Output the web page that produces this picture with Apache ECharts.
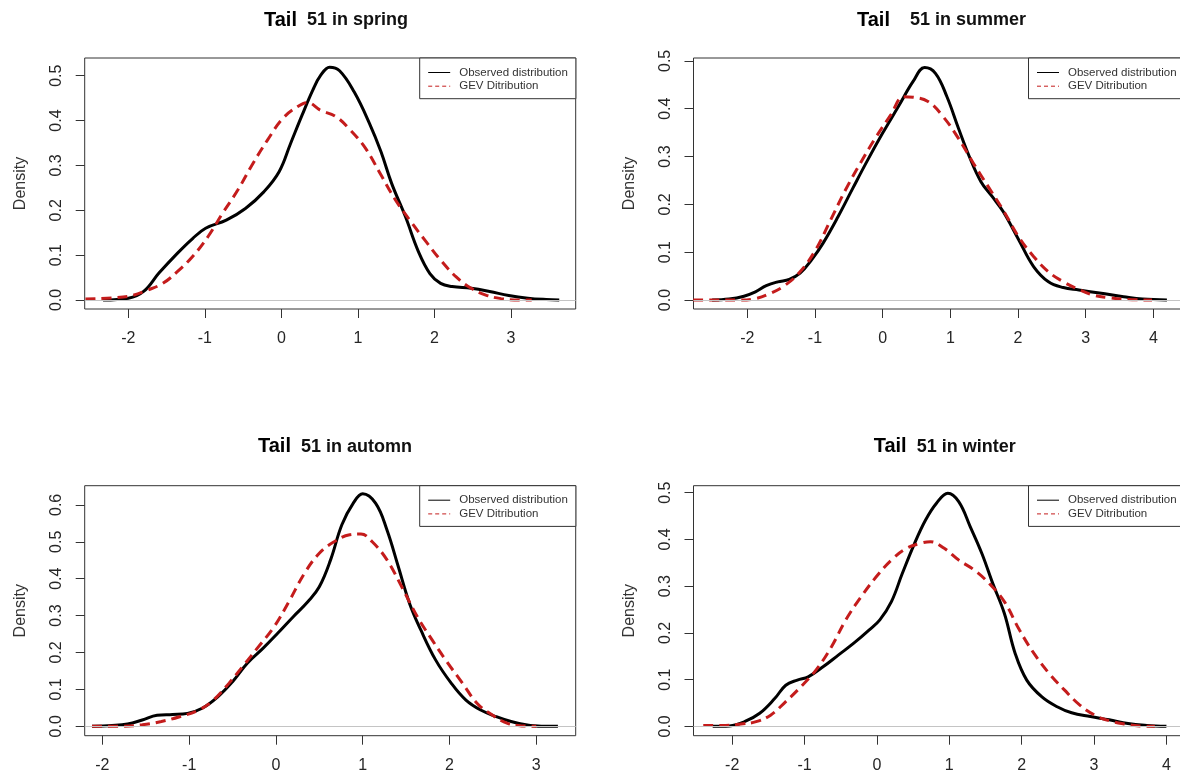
<!DOCTYPE html>
<html>
<head>
<meta charset="utf-8">
<script src="https://cdn.jsdelivr.net/npm/echarts@6/dist/echarts.min.js"></script>
<style>
html,body{margin:0;padding:0;background:#fff;}
#chart{width:1180px;height:777px;}
</style>
</head>
<body>
<div id="chart"></div>
<script>
// ---------- data ----------
const panelTitles = ['51 in spring', '51 in summer', '51 in automn', '51 in winter'];
const titleGaps = ['  ', '    ', '  ', '  '];
const seriesNames = ['Observed distribution', 'GEV Ditribution'];
const yAxisName = 'Density';

const xTicksSpring = [-2, -1, 0, 1, 2, 3];
const xTicksSummer = [-2, -1, 0, 1, 2, 3, 4];
const xTicksAutumn = [-2, -1, 0, 1, 2, 3];
const xTicksWinter = [-2, -1, 0, 1, 2, 3, 4];
const yTicksSpring = [0, 0.1, 0.2, 0.3, 0.4, 0.5];
const yTicksSummer = [0, 0.1, 0.2, 0.3, 0.4, 0.5];
const yTicksAutumn = [0, 0.1, 0.2, 0.3, 0.4, 0.5, 0.6];
const yTicksWinter = [0, 0.1, 0.2, 0.3, 0.4, 0.5];

const xRangeSpring = [-2.57, 3.845];
const xRangeSummer = [-2.795, 4.46];
const xRangeAutumn = [-2.204, 3.455];
const xRangeWinter = [-2.535, 4.25];
const yRangeSpring = [-0.0201, 0.5395];
const yRangeSummer = [-0.0188, 0.506];
const yRangeAutumn = [-0.0255, 0.652];
const yRangeWinter = [-0.020, 0.515];

// spring
const springObsX = [-2.33, -2.0, -1.8, -1.6, -1.36, -1.16, -0.99, -0.72, -0.47, -0.23, -0.03, 0.12, 0.27, 0.41, 0.51, 0.63, 0.76, 0.95, 1.15, 1.30, 1.44, 1.62, 1.79, 1.94, 2.08, 2.23, 2.48, 2.72, 2.97, 3.22, 3.46, 3.63];
const springObsY = [0.0, 0.004, 0.019, 0.06, 0.104, 0.137, 0.16, 0.178, 0.204, 0.241, 0.286, 0.349, 0.412, 0.468, 0.50, 0.519, 0.511, 0.464, 0.394, 0.331, 0.26, 0.186, 0.108, 0.059, 0.037, 0.030, 0.026, 0.019, 0.010, 0.004, 0.001, 0.0];
const springGevX = [-2.56, -2.19, -1.95, -1.75, -1.55, -1.36, -1.16, -0.96, -0.77, -0.57, -0.37, -0.18, 0.02, 0.22, 0.34, 0.51, 0.71, 0.90, 1.10, 1.30, 1.49, 1.69, 1.89, 2.08, 2.28, 2.48, 2.67, 2.87, 3.12, 3.27];
const springGevY = [0.002, 0.005, 0.01, 0.022, 0.037, 0.063, 0.097, 0.141, 0.193, 0.245, 0.305, 0.357, 0.405, 0.432, 0.44, 0.423, 0.409, 0.379, 0.338, 0.279, 0.223, 0.175, 0.13, 0.089, 0.052, 0.026, 0.011, 0.003, 0.0, 0.0];

// summer
const summerObsX = [-2.52, -2.27, -2.05, -1.88, -1.72, -1.55, -1.38, -1.22, -1.05, -0.88, -0.66, -0.44, -0.22, 0.0, 0.23, 0.45, 0.62, 0.78, 0.95, 1.12, 1.28, 1.45, 1.62, 1.78, 2.01, 2.23, 2.45, 2.67, 2.9, 3.23, 3.56, 3.84, 4.2];
const summerObsY = [0.0, 0.002, 0.008, 0.017, 0.03, 0.038, 0.043, 0.056, 0.084, 0.119, 0.174, 0.234, 0.293, 0.349, 0.404, 0.457, 0.486, 0.474, 0.425, 0.359, 0.30, 0.248, 0.216, 0.185, 0.126, 0.07, 0.038, 0.026, 0.021, 0.014, 0.007, 0.002, 0.0];
const summerGevX = [-2.8, -2.5, -2.1, -1.88, -1.66, -1.44, -1.22, -0.99, -0.77, -0.55, -0.33, -0.11, 0.12, 0.31, 0.45, 0.67, 0.89, 1.12, 1.34, 1.56, 1.78, 2.01, 2.23, 2.45, 2.67, 2.9, 3.12, 3.34, 3.62, 3.98];
const summerGevY = [0.0, 0.0, 0.0, 0.003, 0.014, 0.031, 0.059, 0.105, 0.167, 0.23, 0.286, 0.338, 0.387, 0.425, 0.424, 0.415, 0.384, 0.338, 0.286, 0.237, 0.188, 0.132, 0.091, 0.059, 0.038, 0.022, 0.01, 0.005, 0.001, 0.0];

// autumn
const autumnObsX = [-2.12, -1.89, -1.71, -1.54, -1.37, -1.19, -1.02, -0.85, -0.67, -0.5, -0.33, -0.15, 0.02, 0.2, 0.37, 0.5, 0.63, 0.76, 0.89, 1.0, 1.15, 1.28, 1.41, 1.54, 1.67, 1.84, 2.02, 2.19, 2.36, 2.54, 2.71, 2.88, 3.06, 3.25];
const autumnObsY = [0.0, 0.002, 0.006, 0.017, 0.03, 0.032, 0.035, 0.049, 0.08, 0.121, 0.171, 0.211, 0.252, 0.297, 0.338, 0.378, 0.451, 0.546, 0.604, 0.63, 0.604, 0.532, 0.433, 0.333, 0.261, 0.18, 0.117, 0.071, 0.044, 0.026, 0.013, 0.004, 0.0, 0.0];
const autumnGevX = [-2.12, -1.8, -1.54, -1.32, -1.11, -0.89, -0.72, -0.54, -0.37, -0.2, -0.02, 0.15, 0.33, 0.5, 0.67, 0.85, 0.98, 1.11, 1.28, 1.45, 1.63, 1.8, 1.97, 2.15, 2.32, 2.49, 2.67, 2.84, 3.0];
const autumnGevY = [0.0, 0.0, 0.004, 0.013, 0.026, 0.044, 0.071, 0.117, 0.166, 0.216, 0.27, 0.338, 0.415, 0.469, 0.50, 0.519, 0.521, 0.50, 0.451, 0.378, 0.297, 0.234, 0.175, 0.117, 0.062, 0.031, 0.008, 0.001, 0.0];

// winter
const winterObsX = [-2.27, -2.04, -1.83, -1.62, -1.41, -1.26, -1.1, -0.95, -0.74, -0.53, -0.32, -0.11, 0.04, 0.2, 0.35, 0.51, 0.67, 0.82, 0.98, 1.13, 1.29, 1.45, 1.6, 1.76, 1.91, 2.07, 2.28, 2.49, 2.69, 2.95, 3.21, 3.47, 3.73, 4.0];
const winterObsY = [0.0, 0.001, 0.01, 0.028, 0.06, 0.088, 0.099, 0.106, 0.128, 0.153, 0.178, 0.206, 0.228, 0.267, 0.327, 0.388, 0.441, 0.477, 0.499, 0.481, 0.427, 0.37, 0.306, 0.242, 0.156, 0.099, 0.063, 0.042, 0.029, 0.021, 0.014, 0.006, 0.002, 0.0];
const winterGevX = [-2.4, -2.09, -1.88, -1.67, -1.47, -1.26, -1.05, -0.84, -0.63, -0.43, -0.22, -0.01, 0.2, 0.41, 0.61, 0.74, 0.93, 1.13, 1.34, 1.55, 1.76, 1.97, 2.17, 2.38, 2.59, 2.8, 3.01, 3.21, 3.42, 3.63, 3.84];
const winterGevY = [0.002, 0.002, 0.005, 0.01, 0.024, 0.053, 0.085, 0.121, 0.17, 0.228, 0.277, 0.32, 0.356, 0.381, 0.392, 0.395, 0.381, 0.356, 0.335, 0.306, 0.267, 0.206, 0.156, 0.113, 0.078, 0.046, 0.024, 0.012, 0.005, 0.001, 0.0];

// ---------- layout ----------
const zip = (xs, ys) => xs.map((x, i) => [x, ys[i]]);
const panels = [
  {title: panelTitles[0], gap: titleGaps[0], obs: zip(springObsX, springObsY), gev: zip(springGevX, springGevY), xr: xRangeSpring, yr: yRangeSpring, xt: xTicksSpring, yt: yTicksSpring},
  {title: panelTitles[1], gap: titleGaps[1], obs: zip(summerObsX, summerObsY), gev: zip(summerGevX, summerGevY), xr: xRangeSummer, yr: yRangeSummer, xt: xTicksSummer, yt: yTicksSummer},
  {title: panelTitles[2], gap: titleGaps[2], obs: zip(autumnObsX, autumnObsY), gev: zip(autumnGevX, autumnGevY), xr: xRangeAutumn, yr: yRangeAutumn, xt: xTicksAutumn, yt: yTicksAutumn},
  {title: panelTitles[3], gap: titleGaps[3], obs: zip(winterObsX, winterObsY), gev: zip(winterGevX, winterGevY), xr: xRangeWinter, yr: yRangeWinter, xt: xTicksWinter, yt: yTicksWinter}
];
const boxes = [
  {left: 84.7, top: 58, width: 491, height: 251, tx: 336, ty: 20},
  {left: 693.5, top: 58, width: 491, height: 251, tx: 941.5, ty: 20},
  {left: 84.7, top: 485.7, width: 491, height: 250, tx: 335, ty: 446.7},
  {left: 693.5, top: 485.7, width: 491, height: 250, tx: 944.7, ty: 446.7}
];

const FONT = '"Liberation Sans", Arial, sans-serif';
const RED = '#c41c1c';
const grid = [], xAxis = [], yAxis = [], series = [], legend = [], graphic = [];

panels.forEach((p, i) => {
  const b = boxes[i];
  grid.push({
    left: b.left, top: b.top, width: b.width, height: b.height,
    containLabel: false, outerBoundsMode: 'none',
    show: true, borderColor: '#333', borderWidth: 1, backgroundColor: 'transparent'
  });
  xAxis.push({
    type: 'value', gridIndex: i, min: p.xr[0], max: p.xr[1], position: 'bottom',
    axisLine: {show: false, onZero: false},
    splitLine: {show: false},
    axisTick: {show: true, customValues: p.xt, length: 9, lineStyle: {color: '#333', width: 1}},
    axisLabel: {customValues: p.xt, margin: 22, fontSize: 16, color: '#262626', fontFamily: FONT}
  });
  yAxis.push({
    type: 'value', gridIndex: i, min: p.yr[0], max: p.yr[1], position: 'left',
    name: yAxisName, nameLocation: 'middle', nameGap: 56, nameRotate: 90,
    nameTextStyle: {fontSize: 16, color: '#333', fontFamily: FONT},
    axisLine: {show: false, onZero: false},
    splitLine: {show: false},
    axisTick: {show: true, customValues: p.yt, length: 9, lineStyle: {color: '#333', width: 1}},
    axisLabel: {customValues: p.yt, rotate: 90, margin: 20, fontSize: 16, color: '#262626', fontFamily: FONT,
      formatter: v => v.toFixed(1)}
  });
  series.push({
    name: seriesNames[0], type: 'line', xAxisIndex: i, yAxisIndex: i,
    data: p.obs, symbol: 'none', smooth: 0.4,
    lineStyle: {color: '#000', width: 3}, itemStyle: {color: '#000'},
    markLine: {silent: true, symbol: ['none', 'none'], label: {show: false},
      lineStyle: {color: '#c4c4c4', width: 1, type: 'solid'}, data: [{yAxis: 0}]},
    z: 2
  });
  series.push({
    name: seriesNames[1], type: 'line', xAxisIndex: i, yAxisIndex: i,
    data: p.gev, symbol: 'none', smooth: 0.4,
    lineStyle: {color: RED, width: 3, type: [10, 6]}, itemStyle: {color: RED},
    z: 3
  });
  legend.push({
    left: b.left + b.width - 156, top: b.top,
    orient: 'vertical', itemWidth: 22, itemHeight: 12, itemGap: 1.7,
    padding: [8.5, 8, 6.5, 8],
    borderColor: '#333', borderWidth: 1, borderRadius: 0, backgroundColor: '#fff',
    selectedMode: false,
    textStyle: {fontSize: 11.5, color: '#333', fontFamily: FONT, padding: [0, 0, 0, 4], lineHeight: 12},
    data: [
      {name: seriesNames[0], itemStyle: {opacity: 0}, lineStyle: {color: '#000', width: 1, type: 'solid'}},
      {name: seriesNames[1], itemStyle: {opacity: 0}, lineStyle: {color: RED, width: 1, type: [4, 3]}}
    ]
  });
  graphic.push({
    type: 'text', x: b.tx, y: b.ty,
    style: {
      text: '{a|Tail}{b|' + p.gap + p.title + '}',
      align: 'center', verticalAlign: 'middle',
      rich: {
        a: {fontSize: 20, fontWeight: 'bold', fill: '#000', fontFamily: FONT},
        b: {fontSize: 18, fontWeight: 'bold', fill: '#111', fontFamily: FONT}
      }
    }
  });
});

const chart = echarts.init(document.getElementById('chart'), null, {renderer: 'canvas'});
chart.setOption({
  backgroundColor: '#fff',
  animation: false,
  grid, xAxis, yAxis, series, legend, graphic
});
</script>
</body>
</html>
